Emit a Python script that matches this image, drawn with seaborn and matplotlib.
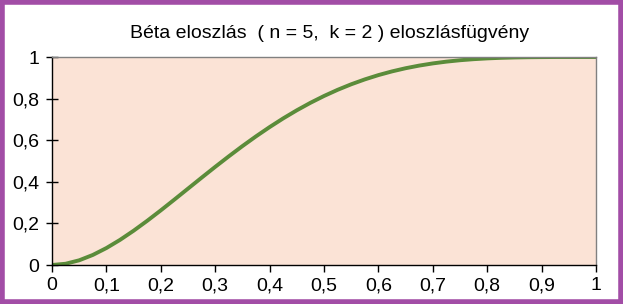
import matplotlib
matplotlib.use("Agg")
import matplotlib.pyplot as plt
import seaborn as sns
from matplotlib.patches import Rectangle
from matplotlib.ticker import FuncFormatter

x_values = [0.0, 0.025, 0.05, 0.075, 0.1, 0.125, 0.15, 0.175, 0.2, 0.225, 0.25,
            0.275, 0.3, 0.325, 0.35, 0.375, 0.4, 0.425, 0.45, 0.475, 0.5,
            0.525, 0.55, 0.575, 0.6, 0.625, 0.65, 0.675, 0.7, 0.725, 0.75,
            0.775, 0.8, 0.825, 0.85, 0.875, 0.9, 0.925, 0.95, 0.975, 1.0]
cdf_values = [0.0, 0.006, 0.0226, 0.0483, 0.0815, 0.1207, 0.1648, 0.2125, 0.2627, 0.3146, 0.3672,
              0.4198, 0.4718, 0.5225, 0.5716, 0.6185, 0.6630, 0.7049, 0.7438, 0.7797, 0.8125,
              0.8422, 0.8688, 0.8923, 0.9130, 0.9308, 0.9460, 0.9587, 0.9692, 0.9777, 0.9844,
              0.9895, 0.9933, 0.9960, 0.9978, 0.9989, 0.9995, 0.9999, 1.0, 1.0, 1.0]
x_ticks = [0, 0.1, 0.2, 0.3, 0.4, 0.5, 0.6, 0.7, 0.8, 0.9, 1]
y_ticks = [0, 0.2, 0.4, 0.6, 0.8, 1]
title_text = "Béta eloszlás  ( n = 5,  k = 2 ) eloszlásfügvény"

sns.set_theme(style="white")
plt.rcParams['font.family'] = ['Liberation Sans', 'DejaVu Sans']

W, H = 623, 304
fig = plt.figure(figsize=(W / 100, H / 100), dpi=100)
fig.patch.set_facecolor("white")
ax = fig.add_axes([52 / W, 1 - 265 / H, (596 - 52) / W, (265 - 57) / H])
ax.set_facecolor("#FBE3D6")

sns.lineplot(x=x_values, y=cdf_values, ax=ax, color="#5B8C3A", linewidth=2.8)

ax.set_xlim(0, 1)
ax.set_ylim(0, 1)
ax.set_xticks(x_ticks)
ax.set_yticks(y_ticks)
fmt = FuncFormatter(lambda v, p: ("%g" % round(v, 2)).replace(".", ","))
ax.xaxis.set_major_formatter(fmt)
ax.yaxis.set_major_formatter(fmt)
ax.tick_params(axis="both", width=1, colors="black", labelsize=14, labelcolor="black")
ax.tick_params(axis="x", direction="out", length=5, pad=4)
ax.tick_params(axis="y", direction="inout", length=8, pad=5)
ax.xaxis.set_ticks_position("bottom")
ax.yaxis.set_ticks_position("left")
for side in ["left", "bottom"]:
    ax.spines[side].set_color("black")
    ax.spines[side].set_linewidth(1)
for side in ["top", "right"]:
    ax.spines[side].set_color("#808080")
    ax.spines[side].set_linewidth(1)
ax.set_xlabel("")
ax.set_ylabel("")

fig.text(0.5 * (133 + 527) / W, 1 - 33 / H, title_text, ha="center", va="center",
         fontsize=14, color="black")

fig.patches.append(Rectangle((2 / W, 2 / H), 1 - 4 / W, 1 - 4 / H, transform=fig.transFigure,
                             fill=False, edgecolor="#A24DA6", linewidth=4, zorder=10))

fig.savefig("out.png", dpi=100)
